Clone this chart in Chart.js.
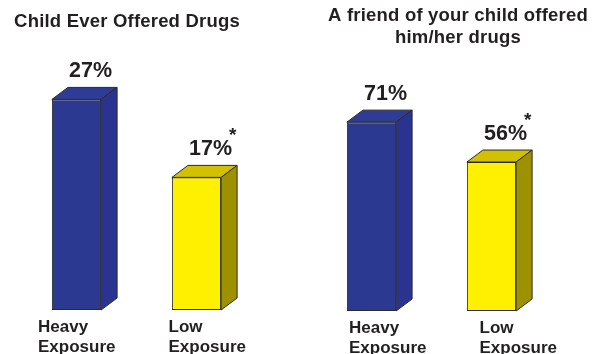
<!DOCTYPE html>
<html>
<head>
<meta charset="utf-8">
<script src="https://cdn.jsdelivr.net/npm/chart.js@4/dist/chart.umd.min.js"></script>
<style>
  html, body { margin: 0; padding: 0; background: #ffffff; }
  #wrap { position: relative; width: 600px; height: 354px; overflow: hidden; }
  .panel { position: absolute; top: 0; width: 300px; height: 354px; }
</style>
</head>
<body>
<div id="wrap">
  <div class="panel" style="left:0"><canvas id="offeredChart"></canvas></div>
  <div class="panel" style="left:300px"><canvas id="friendChart"></canvas></div>
</div>
<script>
// 数据
const categories = [['Heavy', 'Exposure'], ['Low', 'Exposure']];
const childOfferedValues = [27, 17];
const friendOfferedValues = [71, 56];
const significantFlags = [false, true];
const childOfferedTitle = ['Child Ever Offered Drugs'];
const friendOfferedTitle = ['A friend of your child offered', 'him/her drugs'];
const childOfferedMax = 30;
const friendOfferedMax = 100;

// 颜色：正面 / 顶面 / 侧面
const frontColors = ['#2b3990', '#fff000'];
const topColors = ['#2e3c96', '#d2c100'];
const sideColors = ['#2b3391', '#9e9100'];
const edgeColor = '#2a2a2a';
const textColor = '#231f20';
const fontFamily = '"Liberation Sans", Arial, Helvetica, sans-serif';

// 3D 柱子 + 文本
const bar3dPlugin = {
  id: 'bar3d',
  afterDatasetsDraw(chart, args, opts) {
    const ctx = chart.ctx;
    const meta = chart.getDatasetMeta(0);
    const dx = opts.depthX, dy = opts.depthY;

    meta.data.forEach((bar, i) => {
      const left = bar.x - bar.width / 2;
      const right = bar.x + bar.width / 2;
      const top = bar.y;
      const base = bar.base;

      ctx.save();
      ctx.lineWidth = 1;
      ctx.strokeStyle = edgeColor;
      ctx.lineJoin = 'round';

      // top face
      ctx.beginPath();
      ctx.moveTo(left, top);
      ctx.lineTo(left + dx, top - dy);
      ctx.lineTo(right + dx, top - dy);
      ctx.lineTo(right, top);
      ctx.closePath();
      ctx.fillStyle = topColors[i];
      ctx.fill();
      ctx.stroke();

      // side face
      ctx.beginPath();
      ctx.moveTo(right, top);
      ctx.lineTo(right + dx, top - dy);
      ctx.lineTo(right + dx, base - dy);
      ctx.lineTo(right, base);
      ctx.closePath();
      ctx.fillStyle = sideColors[i];
      ctx.fill();
      ctx.stroke();

      // value label
      const value = chart.data.datasets[0].data[i];
      const text = value + '%';
      ctx.fillStyle = textColor;
      ctx.font = 'bold 21.5px ' + fontFamily;
      ctx.textAlign = 'center';
      ctx.textBaseline = 'alphabetic';
      const vx = bar.x + 14;
      const vy = top - 22;
      ctx.fillText(text, vx, vy);
      if (significantFlags[i]) {
        const w = ctx.measureText(text).width;
        ctx.font = 'bold 19px ' + fontFamily;
        ctx.textAlign = 'left';
        ctx.fillText('*', vx + w / 2 - 3, vy - 14);
      }

      // category label (left-aligned block)
      ctx.font = 'bold 17px ' + fontFamily;
      ctx.textAlign = 'left';
      const lines = chart.data.labels[i];
      const lx = chart.chartArea.left + opts.labelStart + i * opts.labelStep;
      lines.forEach((line, k) => {
        ctx.fillText(line, lx, base + 22 + k * 20);
      });
      ctx.restore();
    });

    // title
    ctx.save();
    ctx.fillStyle = textColor;
    ctx.font = 'bold 18.5px ' + fontFamily;
    ctx.letterSpacing = '0.2px';
    ctx.textAlign = 'center';
    ctx.textBaseline = 'alphabetic';
    opts.title.forEach((line, k) => {
      ctx.fillText(line, opts.titleX, opts.titleY + k * 22);
    });
    ctx.restore();
  }
};

const makeChart = (canvasId, values, max, padding, titleLines, titleX, titleY, labelStart) => {
  const canvas = document.getElementById(canvasId);
  return new Chart(canvas.getContext('2d'), {
    type: 'bar',
    data: {
      labels: categories,
      datasets: [{
        data: values,
        backgroundColor: frontColors,
        borderColor: edgeColor,
        borderWidth: 1,
        borderSkipped: false,
        barPercentage: 0.41,
        categoryPercentage: 1
      }]
    },
    options: {
      responsive: true,
      maintainAspectRatio: false,
      animation: false,
      layout: { padding: padding },
      plugins: {
        legend: { display: false },
        tooltip: { enabled: false },
        title: { display: false },
        bar3d: {
          depthX: 16, depthY: 12,
          title: titleLines, titleX: titleX, titleY: titleY,
          labelStart: labelStart, labelStep: 130.5
        }
      },
      scales: {
        x: { display: false },
        y: { display: false, min: 0, max: max }
      }
    },
    plugins: [bar3dPlugin]
  });
};

makeChart('offeredChart', childOfferedValues, childOfferedMax,
  { left: 16.5, right: 43.5, top: 76, bottom: 44 }, childOfferedTitle, 127, 27, 21.5);
makeChart('friendChart', friendOfferedValues, friendOfferedMax,
  { left: 11.5, right: 48.5, top: 45, bottom: 43 }, friendOfferedTitle, 158, 21, 37.5);
</script>
</body>
</html>
